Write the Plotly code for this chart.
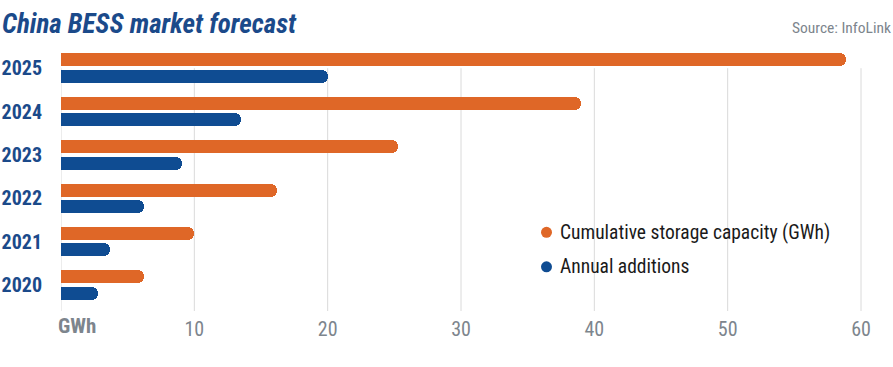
import plotly.graph_objects as go

years = ["2020", "2021", "2022", "2023", "2024", "2025"]
cumulative = [6.2, 10.0, 16.2, 25.3, 39.0, 58.9]
annual = [2.8, 3.7, 6.2, 9.1, 13.5, 20.0]
x_ticks = [10, 20, 30, 40, 50, 60]
series_names = ["Cumulative storage capacity (GWh)", "Annual additions"]

ORANGE = "#DF6727"
BLUE = "#0F4C92"
TITLE_BLUE = "#1B4A8A"
GRAY = "#7D858D"
GRID = "#DADADA"
FONT = "Roboto Condensed, Open Sans Condensed, DejaVu Sans Condensed, sans-serif"

rows = list(range(len(years)))
off = 0.19
bw = 0.30

fig = go.Figure()
for vals, color, sign in [(cumulative, ORANGE, 1), (annual, BLUE, -1)]:
    ypos = [r + sign * off for r in rows]
    fig.add_trace(go.Bar(x=vals, y=ypos, orientation="h", width=bw,
                         marker=dict(color=color, cornerradius="50%", line=dict(width=0)),
                         showlegend=False, hoverinfo="x"))
    fig.add_trace(go.Bar(x=[v / 2 for v in vals], y=ypos, orientation="h", width=bw,
                         marker=dict(color=color, line=dict(width=0)),
                         showlegend=False, hoverinfo="skip"))

shapes = []
for t in [0] + x_ticks:
    shapes.append(dict(type="line", xref="x", yref="y", x0=t, x1=t, y0=-0.6, y1=5.0,
                       line=dict(color=GRID, width=1), layer="below"))

PT, PH, PL, PW = 52.5, 258.2, 61, 820

def py(px):
    return 1 - (px - PT) / PH

def pxx(px):
    return (px - PL) / PW

for color, ypx in [(ORANGE, 232), (BLUE, 266.5)]:
    shapes.append(dict(type="circle", xref="paper", yref="paper", xsizemode="pixel", ysizemode="pixel",
                       xanchor=pxx(546.5), yanchor=py(ypx), x0=-5.5, x1=5.5, y0=-5.5, y1=5.5,
                       fillcolor=color, line=dict(width=0)))

annotations = []
for name, ypx in [(series_names[0], 232), (series_names[1], 266.5)]:
    annotations.append(dict(text=name, xref="paper", yref="paper", x=pxx(558), y=py(ypx),
                            xanchor="left", yanchor="middle", showarrow=False,
                            font=dict(family=FONT, size=19.5, color="#1a1a1a")))

annotations.append(dict(text="<b><i>China BESS market forecast</i></b>", xref="paper", yref="paper",
                        x=pxx(0), y=py(23), xanchor="left", yanchor="middle",
                        showarrow=False, font=dict(family=FONT, size=27, color=TITLE_BLUE)))
annotations.append(dict(text="Source: InfoLink", xref="paper", yref="paper",
                        x=pxx(893), y=py(27), xanchor="right", yanchor="middle",
                        showarrow=False, font=dict(family=FONT, size=15.5, color=GRAY)))
annotations.append(dict(text="<b>GWh</b>", xref="x", yref="paper", x=0, xshift=-5,
                        y=py(326), xanchor="left", yanchor="middle", showarrow=False,
                        font=dict(family=FONT, size=21, color=GRAY)))

fig.update_layout(
    width=893, height=367,
    margin=dict(l=PL, r=893 - PL - PW, t=PT, b=367 - PT - PH),
    plot_bgcolor="white", paper_bgcolor="white",
    barmode="overlay", bargap=0,
    showlegend=False,
    shapes=shapes, annotations=annotations,
    xaxis=dict(range=[0, 61.5], tickvals=x_ticks, ticktext=[str(t) for t in x_ticks],
               showgrid=False, zeroline=False, showline=False, ticks="", automargin=False,
               tickfont=dict(family=FONT, size=20, color=GRAY), ticklabelstandoff=4),
    yaxis=dict(range=[-0.6, 5.35], tickvals=rows, ticktext=["<b>" + y + "</b>" for y in years],
               showgrid=False, zeroline=False, showline=False, ticks="", automargin=False,
               tickfont=dict(family=FONT, size=20, color=TITLE_BLUE), ticklabelstandoff=18),
)

fig.write_html("out.html", config={"displayModeBar": False},
               post_script="document.body.style.margin='0';document.body.style.overflow='hidden';")
